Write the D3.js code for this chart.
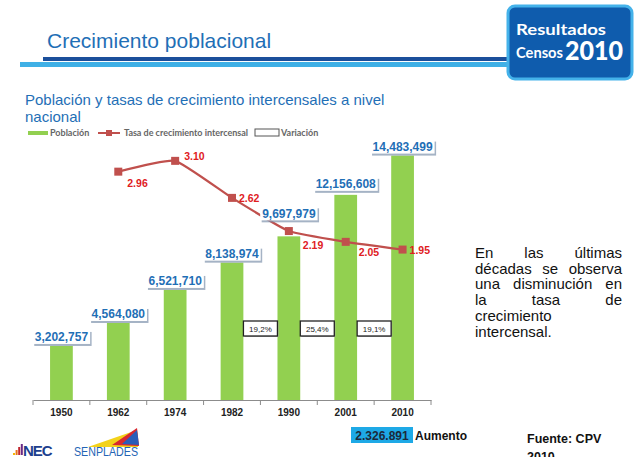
<!DOCTYPE html>
<html>
<head>
<meta charset="utf-8">
<script src="https://cdn.jsdelivr.net/npm/d3@7"></script>
<style>
  body { margin: 0; background: #fff; }
  svg { display: block; font-family: Arial, "Liberation Sans", sans-serif; }
</style>
</head>
<body>
<script>
// data
var years = ["1950", "1962", "1974", "1982", "1990", "2001", "2010"];
var poblacion = [3202757, 4564080, 6521710, 8138974, 9697979, 12156608, 14483499];
var rateYears = ["1962", "1974", "1982", "1990", "2001", "2010"];
var tasas = [2.96, 3.10, 2.62, 2.19, 2.05, 1.95];
var varYears = ["1990", "2001", "2010"];
var variacion = ["19,2%", "25,4%", "19,1%"];

// label offsets (dx, dy from the marker)
var rateOff = [[9, 15], [9, -1], [7, 4], [14, 18], [13, 14], [7, 4]];
var popLift = [0, 0, 0, 0, 14, 2, 0];

var w = 638, h = 457;
var svg = d3.select("body").append("svg").attr("width", w).attr("height", h);

// ---- header
svg.append("text").attr("x", 47).attr("y", 48)
    .attr("font-size", 21).attr("fill", "#1f6fb6").text("Crecimiento poblacional");
svg.append("rect").attr("x", 43).attr("y", 57).attr("width", 470).attr("height", 4).attr("fill", "#1b4f9b");
svg.append("rect").attr("x", 20).attr("y", 62).attr("width", 493).attr("height", 5).attr("fill", "#3fb0e6");

var badge = svg.append("g").attr("font-family", "Lato, 'Open Sans', sans-serif")
    .attr("font-weight", "bold").attr("fill", "#fff");
badge.append("rect").attr("x", 508).attr("y", 6).attr("width", 124).attr("height", 73)
    .attr("rx", 7).attr("fill", "#0f5cad").attr("stroke", "#44b2ea").attr("stroke-width", 3);
badge.append("text").attr("x", 516).attr("y", 35).attr("font-size", 16)
    .attr("textLength", 90).attr("lengthAdjust", "spacingAndGlyphs").text("Resultados");
badge.append("text").attr("x", 516).attr("y", 58).attr("font-size", 16)
    .attr("textLength", 47).attr("lengthAdjust", "spacingAndGlyphs").text("Censos");
badge.append("text").attr("x", 565).attr("y", 60).attr("font-size", 26).attr("font-weight", 900)
    .attr("textLength", 58).attr("lengthAdjust", "spacingAndGlyphs").text("2010");

svg.append("text").attr("x", 25).attr("y", 105).attr("font-size", 15).attr("fill", "#1f6fb6")
    .text("Población y tasas de crecimiento intercensales a nivel");
svg.append("text").attr("x", 25).attr("y", 122).attr("font-size", 15).attr("fill", "#1f6fb6")
    .text("nacional");

// ---- legend
var lg = svg.append("g").attr("font-family", "Lato, sans-serif").attr("font-size", 9)
    .attr("font-weight", "bold").attr("fill", "#666");
lg.append("rect").attr("x", 28).attr("y", 131).attr("width", 20).attr("height", 4).attr("fill", "#92d050");
lg.append("text").attr("x", 50).attr("y", 136).text("Población");
lg.append("line").attr("x1", 98).attr("x2", 120).attr("y1", 133).attr("y2", 133)
    .attr("stroke", "#c0504d").attr("stroke-width", 2);
lg.append("rect").attr("x", 106).attr("y", 130).attr("width", 6).attr("height", 6).attr("fill", "#c0504d");
lg.append("text").attr("x", 124).attr("y", 136).attr("textLength", 124).text("Tasa de crecimiento intercensal");
lg.append("rect").attr("x", 255).attr("y", 129).attr("width", 24).attr("height", 7)
    .attr("fill", "#fff").attr("stroke", "#555").attr("stroke-width", 1);
lg.append("text").attr("x", 281).attr("y", 136).text("Variación");

// ---- scales
var xo = d3.scaleBand().domain(years).range([33, 431]);
var xb = d3.scaleBand().domain(years).range([33, 431]).paddingInner(0.6).paddingOuter(0.3);
var yPop = d3.scaleLinear().domain([0, 16000000]).range([400, 130]);
var yRate = d3.scaleLinear().domain([0, 3.5]).range([400, 130]);
var cx = function (d) { return xo(d) + xo.bandwidth() / 2; };

var chart = svg.append("g");

// bars
chart.selectAll(".bar").data(poblacion).enter().append("rect")
    .attr("class", "bar")
    .attr("x", function (d, i) { return xb(years[i]); })
    .attr("y", function (d) { return yPop(d); })
    .attr("width", xb.bandwidth())
    .attr("height", function (d) { return yPop(0) - yPop(d); })
    .attr("fill", "#92d050");

// axis
var axis = chart.append("g").attr("transform", "translate(0,400)")
    .call(d3.axisBottom(xo).tickSize(0).tickPadding(9));
axis.select(".domain").attr("stroke", "#8c8c8c");
axis.selectAll("text").attr("font-size", 10).attr("font-weight", "bold")
    .attr("fill", "#222").attr("font-family", "Arial, 'Liberation Sans', sans-serif");
var edges = years.map(function (d) { return xo(d); }).concat([xo.range()[1]]);
chart.selectAll(".edge").data(edges).enter().append("line")
    .attr("x1", function (d) { return d; }).attr("x2", function (d) { return d; })
    .attr("y1", 400).attr("y2", 405).attr("stroke", "#8c8c8c");

// variation boxes
var vb = chart.selectAll(".var").data(variacion).enter().append("g")
    .attr("transform", function (d, i) { return "translate(" + xo(varYears[i]) + ",329)"; });
vb.append("rect").attr("x", -16).attr("y", -7).attr("width", 34).attr("height", 15).attr("fill", "#b0b0b0");
vb.append("rect").attr("x", -17).attr("y", -8).attr("width", 34).attr("height", 15)
    .attr("fill", "#fff").attr("stroke", "#222").attr("stroke-width", 1.3);
vb.append("text").attr("text-anchor", "middle").attr("y", 2.5).attr("font-size", 8)
    .attr("fill", "#222").text(function (d) { return d; });

// rate line
var line = d3.line()
    .x(function (d, i) { return cx(rateYears[i]); })
    .y(function (d) { return yRate(d); })
    .curve(d3.curveCardinal.tension(0.6));
chart.append("path").datum(tasas).attr("d", line)
    .attr("fill", "none").attr("stroke", "#c0504d").attr("stroke-width", 2.2);
chart.selectAll(".mk").data(tasas).enter().append("rect")
    .attr("x", function (d, i) { return cx(rateYears[i]) - 4; })
    .attr("y", function (d) { return yRate(d) - 4; })
    .attr("width", 8).attr("height", 8).attr("fill", "#c0504d");
chart.selectAll(".rl").data(tasas).enter().append("text")
    .attr("x", function (d, i) { return cx(rateYears[i]) + rateOff[i][0]; })
    .attr("y", function (d, i) { return yRate(d) + rateOff[i][1]; })
    .attr("font-size", 10.5).attr("font-weight", "bold").attr("fill", "#e0201e")
    .text(function (d) { return d3.format(".2f")(d); });

// population labels
var fmt = d3.format(",");
var pl = chart.selectAll(".pl").data(poblacion).enter().append("g")
    .attr("transform", function (d, i) {
        return "translate(" + cx(years[i]) + "," + (yPop(d) - 9 - popLift[i]) + ")";
    });
pl.each(function (d) {
    var g = d3.select(this);
    var sh = g.append("rect").attr("fill", "#7f93ad").attr("opacity", 0.7);
    var bx = g.append("rect").attr("fill", "#fff");
    var t = g.append("text").attr("text-anchor", "middle").attr("y", 4.5)
        .attr("font-size", 12).attr("font-weight", "bold").attr("fill", "#1f6fb6").text(fmt(d));
    var tw = t.node().getComputedTextLength() + 4;
    bx.attr("x", -tw / 2).attr("y", -7).attr("width", tw).attr("height", 14);
    sh.attr("x", -tw / 2 + 1.5).attr("y", -5).attr("width", tw).attr("height", 14);
});

// ---- side text (justified)
var para = [
    ["En", "las", "últimas"],
    ["décadas", "se", "observa"],
    ["una", "disminución", "en"],
    ["la", "tasa", "de"],
    ["crecimiento"],
    ["intercensal."]
];
var tx0 = 475, tx1 = 622;
var side = svg.append("g").attr("font-size", 15).attr("fill", "#111");
para.forEach(function (words, li) {
    var yy = 258 + li * 15.7;
    if (words.length === 1) {
        side.append("text").attr("x", tx0).attr("y", yy).text(words[0]);
        return;
    }
    var nodes = words.map(function (wd) { return side.append("text").attr("y", yy).text(wd); });
    var widths = nodes.map(function (n) { return n.node().getComputedTextLength(); });
    var gap = (tx1 - tx0 - d3.sum(widths)) / (words.length - 1);
    var xx = tx0;
    nodes.forEach(function (n, k) { n.attr("x", xx); xx += widths[k] + gap; });
});

// ---- footer
svg.append("rect").attr("x", 351).attr("y", 427).attr("width", 62).attr("height", 16).attr("fill", "#1ea9e6");
svg.append("text").attr("x", 382).attr("y", 439.5).attr("text-anchor", "middle")
    .attr("font-size", 12).attr("font-weight", "bold").attr("fill", "#1c2a3a").text("2.326.891");
svg.append("text").attr("x", 415).attr("y", 439.5)
    .attr("font-size", 12).attr("font-weight", "bold").attr("fill", "#111").text("Aumento");
svg.append("text").attr("x", 527).attr("y", 443).attr("font-size", 12.5)
    .attr("font-weight", "bold").attr("fill", "#111").text("Fuente: CPV");
svg.append("text").attr("x", 527).attr("y", 461).attr("font-size", 12.5)
    .attr("font-weight", "bold").attr("fill", "#111").text("2010");

// logos (rough)
var logo = svg.append("g");
[["#f2b705", 2], ["#e8731a", 5], ["#c0262d", 8], ["#6a2a86", 11]].forEach(function (b, i) {
    logo.append("rect").attr("x", 13 + i * 2.6).attr("y", 455 - b[1]).attr("width", 2).attr("height", b[1]).attr("fill", b[0]);
});
logo.append("text").attr("x", 23).attr("y", 455.5).attr("font-size", 15).attr("font-weight", "bold")
    .attr("fill", "#1d3f8e").attr("letter-spacing", -1).text("NEC");
logo.append("path").attr("d", "M88,447 L137,430 L138,447 Z").attr("fill", "#f3d21a");
logo.append("path").attr("d", "M112,445 L137,428 L139,446 Z").attr("fill", "#d8282f");
logo.append("path").attr("d", "M122,444 L137,430 L139,445 Z").attr("fill", "#2a5cb8");
logo.append("text").attr("x", 74).attr("y", 455.5).attr("font-size", 13)
    .attr("textLength", 64).attr("lengthAdjust", "spacingAndGlyphs")
    .attr("fill", "#2464b4").text("SENPLADES");
</script>
</body>
</html>
